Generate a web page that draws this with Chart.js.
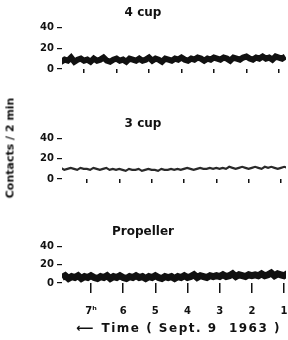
<!DOCTYPE html>
<html>
<head>
<meta charset="utf-8">
<script src="https://cdn.jsdelivr.net/npm/chart.js@4.4.0/dist/chart.umd.min.js"></script>
<style>
  html, body { margin: 0; padding: 0; background: #fff; }
  #wrap { position: relative; width: 288px; height: 340px; overflow: hidden; }
  canvas { position: absolute; left: 0; }
  #ylab {
    position: absolute; left: 10px; top: 148px;
    transform: translate(-50%, -50%) rotate(-90deg);
    font: bold 11px "DejaVu Sans", sans-serif; white-space: nowrap; color: #111;
  }
  #xlab {
    position: absolute; left: 76px; top: 321px;
    font: bold 12px "DejaVu Sans", sans-serif; white-space: pre; color: #111;
  }
  #xlab .t { letter-spacing: 1.5px; }
</style>
</head>
<body>
<div id="wrap">
  <canvas id="c1" width="288" height="80" style="top:0px"></canvas>
  <canvas id="c2" width="288" height="80" style="top:110px"></canvas>
  <canvas id="c3" width="288" height="121" style="top:219px"></canvas>
  <div id="ylab">Contacts / 2 min</div>
  <div id="xlab">⟵  <span class="t">Time ( Sept. 9  1963 )</span></div>
</div>
<script>
// time in hours (axis runs 7h -> 1h, left to right)
const times = [
  7.9, 7.8, 7.7, 7.6, 7.5, 7.4, 7.3, 7.2, 7.1, 7.0, 6.9, 6.8,
  6.7, 6.6, 6.5, 6.4, 6.3, 6.2, 6.1, 6.0, 5.9, 5.8, 5.7, 5.6,
  5.5, 5.4, 5.3, 5.2, 5.1, 5.0, 4.9, 4.8, 4.7, 4.6, 4.5, 4.4,
  4.3, 4.2, 4.1, 4.0, 3.9, 3.8, 3.7, 3.6, 3.5, 3.4, 3.3, 3.2,
  3.1, 3.0, 2.9, 2.8, 2.7, 2.6, 2.5, 2.4, 2.3, 2.2, 2.1, 2.0,
  1.9, 1.8, 1.7, 1.6, 1.5, 1.4, 1.3, 1.2, 1.1, 1.0, 0.9, 0.8
];

const cup4 = [
  8, 10, 7, 9, 8, 11, 7, 9, 10, 8, 9, 7,
  10, 8, 9, 11, 8, 7, 9, 10, 8, 9, 7, 10,
  9, 8, 10, 8, 9, 11, 8, 10, 9, 7, 10, 9,
  8, 10, 9, 11, 9, 8, 10, 9, 11, 10, 8, 10,
  9, 11, 10, 9, 11, 10, 8, 11, 10, 9, 11, 12,
  10, 9, 11, 10, 12, 10, 11, 9, 12, 11, 10, 12
];

const cup3 = [
  10, 11, 9, 10, 11, 10, 9, 11, 10, 10, 9, 11,
  10, 9, 10, 11, 9, 10, 9, 10, 9, 8, 10, 9,
  9, 10, 8, 9, 10, 9, 9, 8, 10, 9, 9, 10,
  9, 10, 9, 10, 11, 10, 9, 10, 11, 10, 10, 11,
  10, 11, 10, 11, 10, 12, 11, 10, 11, 12, 11, 10,
  11, 12, 11, 10, 12, 11, 12, 11, 10, 11, 12, 11
];

const propeller = [
  6, 8, 5, 7, 6, 8, 5, 7, 6, 8, 6, 5,
  7, 6, 8, 5, 7, 6, 8, 6, 5, 7, 6, 8,
  6, 7, 5, 7, 6, 8, 6, 5, 7, 6, 7, 5,
  7, 6, 8, 6, 7, 9, 6, 8, 7, 6, 8, 7,
  8, 7, 9, 7, 8, 10, 7, 9, 8, 7, 9, 8,
  9, 8, 10, 8, 9, 11, 8, 10, 9, 8, 10, 11
];

const yTicks = [0, 20, 40];
const hourLabels = { 7: "7ʰ", 6: "6", 5: "5", 4: "4", 3: "3", 2: "2", 1: "1" };

const FONT = "'DejaVu Sans', sans-serif";
const INK = "#111";

function makePanel(id, title, values, opt) {
  const pts = times.map((t, i) => ({ x: t, y: values[i] }));
  return new Chart(document.getElementById(id), {
    type: "line",
    data: {
      datasets: [{
        data: pts,
        borderColor: opt.color || INK,
        borderWidth: opt.lw,
        pointRadius: 0,
        tension: 0,
      }],
    },
    options: {
      responsive: false,
      animation: false,
      layout: { padding: { left: 0, right: 2, top: 0, bottom: opt.padBottom } },
      plugins: {
        legend: { display: false },
        tooltip: { enabled: false },
        title: {
          display: true,
          text: title,
          color: INK,
          font: { family: FONT, size: 12, weight: "bold" },
          padding: { top: opt.titleTop, bottom: 7 },
        },
      },
      scales: {
        x: {
          type: "linear",
          reverse: true,
          min: opt.xmin,
          max: opt.xmax,
          border: { display: false },
          // keep the plot edges fixed, labels may hang over
          afterFit: (s) => { s.paddingLeft = 0; s.paddingRight = 0; },
          grid: {
            drawOnChartArea: false,
            tickLength: opt.tickLen,
            color: INK,
            lineWidth: 1.5,
          },
          ticks: {
            display: opt.showX,
            stepSize: 1,
            includeBounds: false,
            padding: 12,
            color: INK,
            font: { family: FONT, size: 10, weight: "bold" },
            callback: (v) => hourLabels[v] || "",
          },
        },
        y: {
          min: 0,
          max: 40,
          border: { display: false },
          afterFit: (s) => { s.width = 62; },
          afterBuildTicks: (s) => { s.ticks = yTicks.map((v) => ({ value: v })); },
          grid: {
            drawOnChartArea: false,
            tickLength: 5,
            color: INK,
            lineWidth: 1.2,
          },
          ticks: {
            autoSkip: false,
            padding: 3,
            color: INK,
            font: { family: FONT, size: 10, weight: "bold" },
          },
        },
      },
    },
  });
}

makePanel("c1", "4 cup", cup4, { lw: 6, xmin: 0.78, xmax: 7.68, tickLen: 4, showX: false, padBottom: 7, titleTop: 6 });
makePanel("c2", "3 cup", cup3, { lw: 2.2, color: "#2a2a2a", xmin: 0.845, xmax: 7.77, tickLen: 4, showX: false, padBottom: 7, titleTop: 7 });
makePanel("c3", "Propeller", propeller, { lw: 7, xmin: 0.94, xmax: 7.9, tickLen: 10, showX: true, padBottom: 11, titleTop: 6 });
</script>
</body>
</html>
